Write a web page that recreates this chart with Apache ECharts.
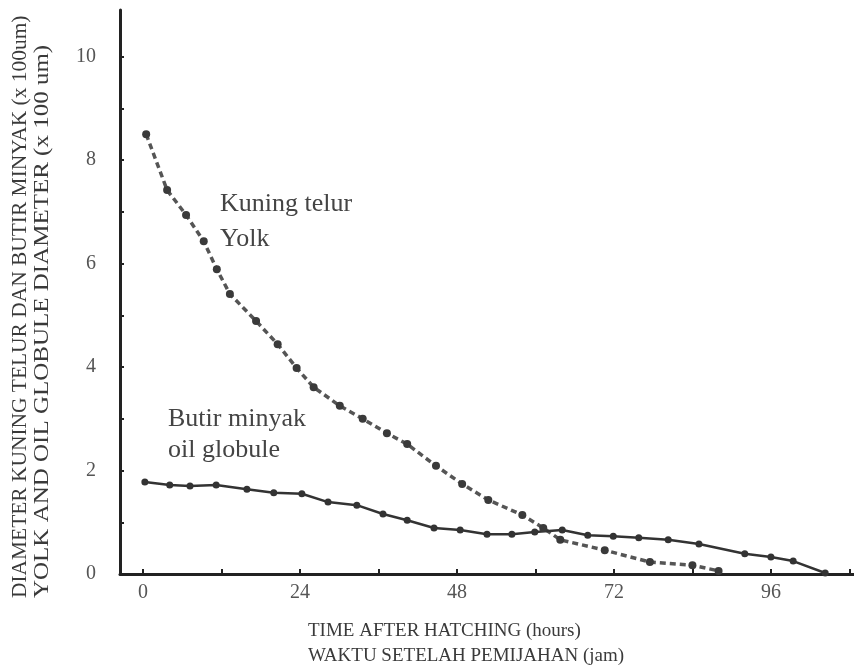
<!DOCTYPE html>
<html>
<head>
<meta charset="utf-8">
<script src="https://cdn.jsdelivr.net/npm/echarts@6/dist/echarts.min.js"></script>
<style>
  html, body { margin: 0; padding: 0; background: #fff; }
  #chart { width: 854px; height: 665px; }
</style>
</head>
<body>
<div id="chart"></div>
<script>
// yolk (kuning telur) readings
const yolkHours = [0.5, 3.7, 6.6, 9.3, 11.3, 13.3, 17.3, 20.6, 23.5, 26.1, 30.1, 33.6, 37.3, 40.4, 44.8, 48.8, 52.8, 58.0, 61.2, 63.8, 70.6, 77.5, 84.0, 88.0]
const yolkDiam = [8.5, 7.42, 6.94, 6.43, 5.89, 5.41, 4.89, 4.44, 3.98, 3.61, 3.25, 3.0, 2.72, 2.51, 2.09, 1.74, 1.43, 1.14, 0.89, 0.66, 0.46, 0.23, 0.17, 0.06]

// oil globule (butir minyak) readings
const oilHours = [0.3, 4.1, 7.2, 11.2, 15.9, 20.0, 24.3, 28.3, 32.7, 36.7, 40.4, 44.5, 48.5, 52.6, 56.4, 59.9, 64.1, 68.0, 71.9, 75.8, 80.3, 85.0, 92.0, 96.0, 99.4, 104.3]
const oilDiam = [1.78, 1.72, 1.70, 1.72, 1.64, 1.57, 1.55, 1.39, 1.33, 1.16, 1.04, 0.89, 0.85, 0.77, 0.77, 0.81, 0.85, 0.75, 0.73, 0.70, 0.66, 0.58, 0.39, 0.33, 0.25, 0.02]

const xTicks = [0, 12, 24, 36, 48, 60, 72, 84, 96, 108]
const xLabels = [0, 24, 48, 72, 96]
const yTicks = [0, 1, 2, 3, 4, 5, 6, 7, 8, 9, 10]
const yLabels = [0, 2, 4, 6, 8, 10]

const serif = '"Liberation Serif", "DejaVu Serif", serif'
const textColor = '#3a3a3a'

const myChart = echarts.init(document.getElementById('chart'))

const option = {
  animation: false,
  backgroundColor: '#fff',
  grid: { left: 120, right: 0, top: 10, bottom: 91 },
  xAxis: {
    type: 'value',
    min: -3.5,
    max: 108.7,
    axisLine: { show: true, onZero: false, lineStyle: { color: '#222', width: 3 } },
    axisTick: { show: true, inside: true, length: 5, customValues: xTicks, lineStyle: { color: '#222', width: 2 } },
    axisLabel: {
      customValues: xLabels,
      margin: 9,
      fontFamily: serif,
      fontSize: 20,
      color: '#555'
    },
    splitLine: { show: false }
  },
  yAxis: {
    type: 'value',
    min: 0,
    max: 10.9,
    axisLine: { show: true, onZero: false, lineStyle: { color: '#222', width: 3 } },
    axisTick: { show: true, inside: true, length: 4, customValues: yTicks, lineStyle: { color: '#222', width: 2 } },
    axisLabel: {
      customValues: yLabels,
      margin: 24,
      fontFamily: serif,
      fontSize: 20,
      color: '#555'
    },
    splitLine: { show: false }
  },
  graphic: [
    {
      type: 'text', x: 20, y: 598, rotation: Math.PI / 2, scaleX: 1.02,
      style: { text: 'DIAMETER KUNING TELUR DAN BUTIR MINYAK (x 100um)', font: '21px ' + serif, fill: textColor, textAlign: 'left', textVerticalAlign: 'middle' }
    },
    {
      type: 'text', x: 42, y: 598, rotation: Math.PI / 2, scaleX: 1.19,
      style: { text: 'YOLK AND OIL GLOBULE DIAMETER (x 100 um)', font: '21px ' + serif, fill: textColor, textAlign: 'left', textVerticalAlign: 'middle' }
    },
    {
      type: 'text', x: 308, y: 631,
      style: { text: 'TIME AFTER HATCHING (hours)', font: '19px ' + serif, fill: textColor, textAlign: 'left', textVerticalAlign: 'middle' }
    },
    {
      type: 'text', x: 308, y: 656,
      style: { text: 'WAKTU SETELAH PEMIJAHAN (jam)', font: '19px ' + serif, fill: textColor, textAlign: 'left', textVerticalAlign: 'middle' }
    },
    {
      type: 'text', x: 220, y: 204,
      style: { text: 'Kuning telur', font: '26px ' + serif, fill: '#444', textAlign: 'left', textVerticalAlign: 'middle' }
    },
    {
      type: 'text', x: 220, y: 239,
      style: { text: 'Yolk', font: '26px ' + serif, fill: '#444', textAlign: 'left', textVerticalAlign: 'middle' }
    },
    {
      type: 'text', x: 168, y: 419,
      style: { text: 'Butir minyak', font: '26px ' + serif, fill: '#444', textAlign: 'left', textVerticalAlign: 'middle' }
    },
    {
      type: 'text', x: 168, y: 450,
      style: { text: 'oil globule', font: '26px ' + serif, fill: '#444', textAlign: 'left', textVerticalAlign: 'middle' }
    }
  ],
  series: [
    {
      name: 'Yolk',
      type: 'line',
      data: yolkHours.map((h, i) => [h, yolkDiam[i]]),
      symbol: 'circle',
      symbolSize: 8,
      itemStyle: { color: '#3a3a3a' },
      lineStyle: { color: '#555', width: 3.5, type: [6, 4] }
    },
    {
      name: 'Oil globule',
      type: 'line',
      data: oilHours.map((h, i) => [h, oilDiam[i]]),
      symbol: 'circle',
      symbolSize: 7,
      itemStyle: { color: '#333' },
      lineStyle: { color: '#333', width: 2.5 }
    }
  ]
}

myChart.setOption(option)
</script>
</body>
</html>
